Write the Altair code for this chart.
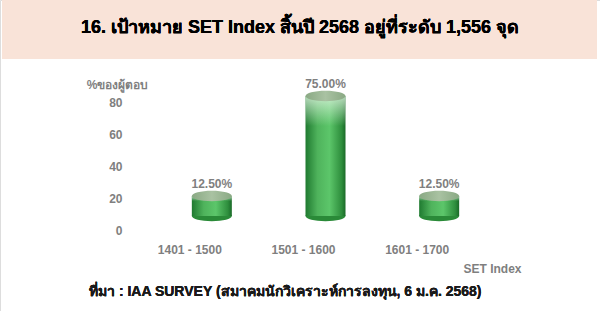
import altair as alt
import pandas as pd

categories = ["1401 - 1500", "1501 - 1600", "1601 - 1700"]
values = [12.5, 75.0, 12.5]
value_labels = ["12.50%", "75.00%", "12.50%"]
y_ticks = [0, 20, 40, 60, 80]

title_text = "16. เป้าหมาย SET Index สิ้นปี 2568 อยู่ที่ระดับ 1,556 จุด"
y_title = "%ของผู้ตอบ"
x_title = "SET Index"
source_text = "ที่มา : IAA SURVEY (สมาคมนักวิเคราะห์การลงทุน, 6 ม.ค. 2568)"

df = pd.DataFrame({"cat": categories, "val": values, "lab": value_labels, "zero": [0, 0, 0]})

FONT = "Liberation Sans"
GREY = "#7f7f7f"
ELLIPSE = "M-1,0 A1,0.26 0 1,0 1,0 A1,0.26 0 1,0 -1,0 Z"
BAR_W = 40
XOFF = 22
YOFF = -14

xs = alt.Scale(domain=categories, range=[133, 474], paddingInner=0, paddingOuter=0)
ys = alt.Scale(domain=[0, 80], range=[230, 102], nice=False, zero=True)

body_grad = alt.Gradient(
    gradient="linear", x1=0, x2=1, y1=0, y2=0,
    stops=[
        alt.GradientStop(offset=0, color="#1f7a30"),
        alt.GradientStop(offset=0.3, color="#4fb35c"),
        alt.GradientStop(offset=0.6, color="#5cc66a"),
        alt.GradientStop(offset=0.9, color="#2e8e3d"),
        alt.GradientStop(offset=1, color="#1a6a28"),
    ],
)
top_grad = alt.Gradient(
    gradient="linear", x1=0, x2=1, y1=0, y2=0,
    stops=[
        alt.GradientStop(offset=0, color="#8aa984"),
        alt.GradientStop(offset=0.5, color="#a9c2a2"),
        alt.GradientStop(offset=1, color="#8aa984"),
    ],
)
shine_grad = alt.Gradient(
    gradient="linear", x1=0, x2=0, y1=0, y2=1,
    stops=[
        alt.GradientStop(offset=0, color="rgba(235,250,235,0.75)"),
        alt.GradientStop(offset=0.25, color="rgba(235,250,235,0.0)"),
        alt.GradientStop(offset=1, color="rgba(235,250,235,0.0)"),
    ],
)

base = alt.Chart(df)

band = base.mark_rect(fill="#F9E3D8").encode(
    x=alt.value(2), x2=alt.value(597), y=alt.value(0), y2=alt.value(59)
)
title = base.mark_text(
    text=title_text, font=FONT, fontSize=18, fontWeight="bold", color="#000000",
    align="center", baseline="middle",
).encode(x=alt.value(300), y=alt.value(28))

bottom = base.mark_point(
    shape=ELLIPSE, size=BAR_W * BAR_W, filled=True, fill="#2a8a38", opacity=1,
    strokeWidth=0, xOffset=XOFF, yOffset=YOFF,
).encode(
    x=alt.X("cat:N", scale=xs, sort=categories,
            axis=alt.Axis(orient="bottom", offset=-70, domain=False, ticks=False, labelAngle=0,
                          labelFont=FONT, labelFontSize=12, labelFontWeight="bold",
                          labelColor=GREY, labelPadding=3,
                          title=x_title, titleFont=FONT, titleFontSize=12, titleFontWeight="bold",
                          titleColor=GREY, titleX=492, titleY=22, titleAlign="center")),
    y=alt.Y("zero:Q", scale=ys,
            axis=alt.Axis(orient="left", offset=-122, domain=False, ticks=False, grid=False,
                          values=y_ticks, labelFont=FONT, labelFontSize=12,
                          labelFontWeight="bold", labelColor=GREY, labelPadding=0,
                          title=y_title, titleAngle=0, titleFont=FONT, titleFontSize=12,
                          titleFontWeight="bold", titleColor=GREY, titleX=26, titleY=84,
                          titleAlign="right", titleBaseline="middle")),
)

body = base.mark_bar(width=BAR_W, fill=body_grad, xOffset=XOFF, yOffset=YOFF, y2Offset=YOFF).encode(
    x=alt.X("cat:N", scale=xs, sort=categories),
    y=alt.Y("val:Q", scale=ys),
    y2=alt.Y2("zero:Q"),
)

shine = base.mark_bar(width=BAR_W, fill=shine_grad, xOffset=XOFF, yOffset=YOFF, y2Offset=YOFF).encode(
    x=alt.X("cat:N", scale=xs, sort=categories),
    y=alt.Y("val:Q", scale=ys),
    y2=alt.Y2("zero:Q"),
)

top = base.mark_point(
    shape=ELLIPSE, size=BAR_W * BAR_W, filled=True, fill=top_grad, opacity=1,
    strokeWidth=0, xOffset=XOFF, yOffset=YOFF,
).encode(
    x=alt.X("cat:N", scale=xs, sort=categories),
    y=alt.Y("val:Q", scale=ys),
)

labels = base.mark_text(
    font=FONT, fontSize=12, fontWeight="bold", color=GREY, baseline="bottom",
    xOffset=XOFF, yOffset=-19,
).encode(
    x=alt.X("cat:N", scale=xs, sort=categories),
    y=alt.Y("val:Q", scale=ys),
    text="lab:N",
)

source = base.mark_text(
    text=source_text, font=FONT, fontSize=14, fontWeight="bold", color="#1a1a1a",
    align="left", baseline="middle",
).encode(x=alt.value(89), y=alt.value(292))

chart = alt.layer(band, title, bottom, body, shine, top, labels, source).properties(
    width=600, height=311, padding=0, autosize=alt.AutoSizeParams(type="none"),
).configure_view(stroke=None).configure(background="white")

chart.save("out.html", embed_options={"renderer": "svg", "actions": False})
